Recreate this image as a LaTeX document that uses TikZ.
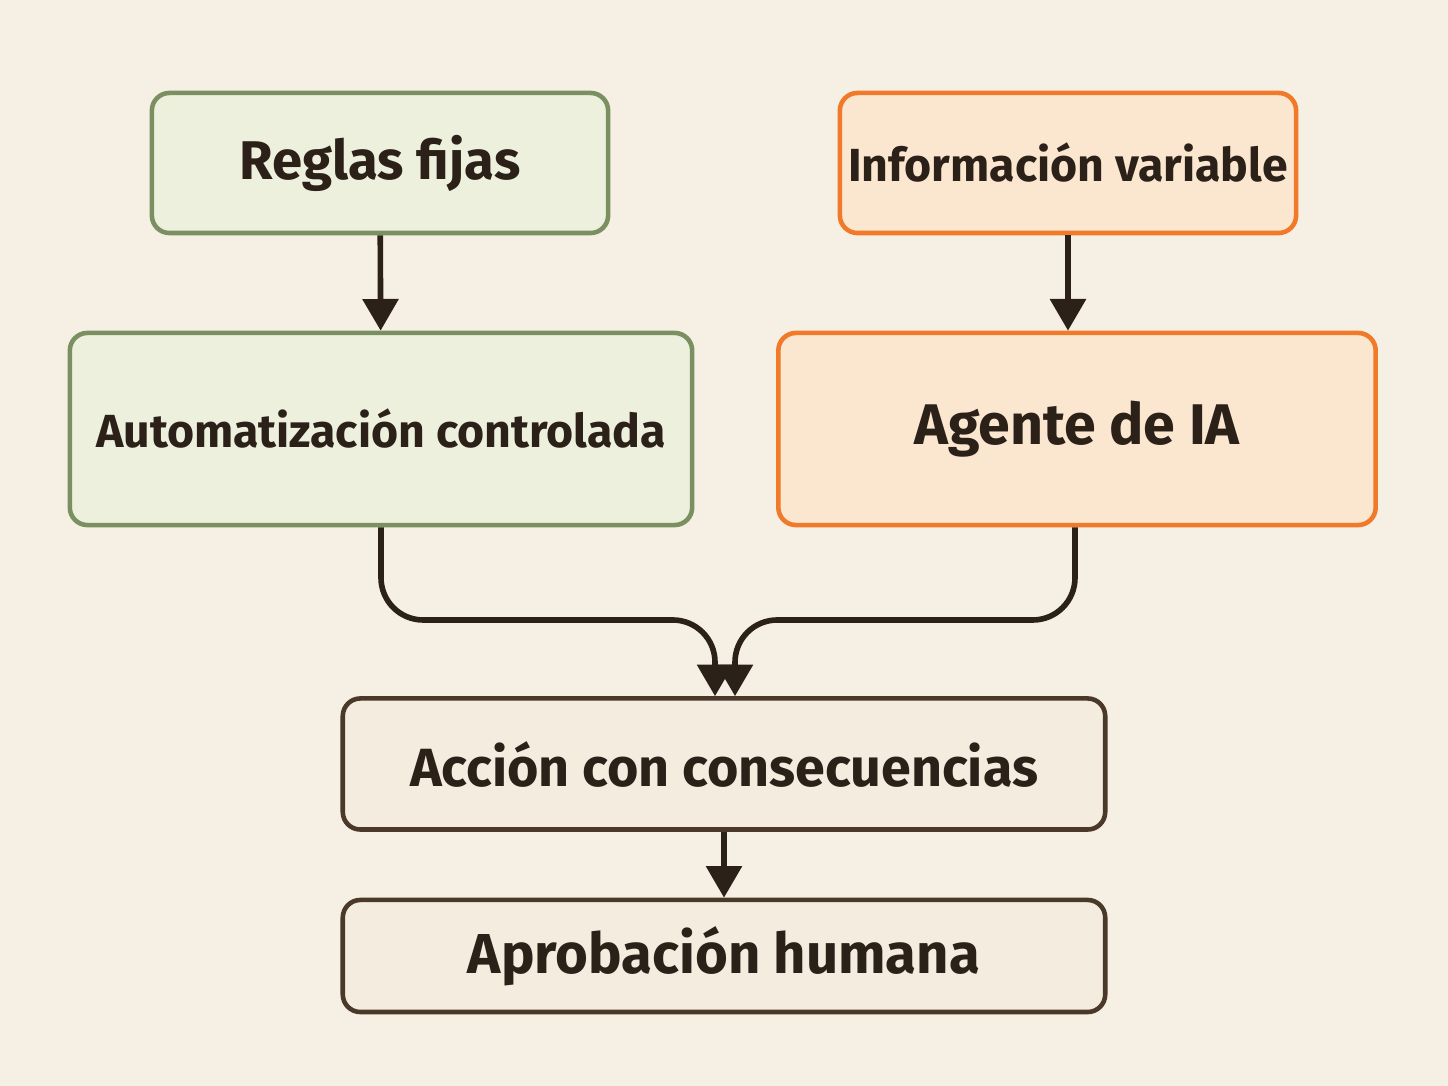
\documentclass[tikz,border=0pt]{standalone}
\usepackage{fontspec}
\setmainfont{Fira Sans}
\usetikzlibrary{arrows.meta,calc}
\definecolor{bgcol}{HTML}{F6F0E4}
\definecolor{greenline}{HTML}{7A9060}
\definecolor{greenfill}{HTML}{EEF0DE}
\definecolor{orangeline}{HTML}{F07A2A}
\definecolor{orangefill}{HTML}{FBE6D0}
\definecolor{brownline}{HTML}{4A3828}
\definecolor{brownfill}{HTML}{F5ECE0}
\definecolor{inkcol}{HTML}{2B2118}
\begin{document}
\begin{tikzpicture}[x=0.01cm,y=-0.01cm,
  box/.style={draw,line width=1.3pt,rounded corners=5pt,inner sep=0pt,text=inkcol,font=\bfseries\fontsize{15}{18}\selectfont},
  rulebox/.style={box,draw=greenline,fill=greenfill},
  aibox/.style={box,draw=orangeline,fill=orangefill},
  actbox/.style={box,draw=brownline,fill=brownfill},
  flow/.style={draw=inkcol,line width=1.6pt,rounded corners=12pt,-{Triangle[width=10pt,length=9pt]}}]
\fill[bgcol] (0,0) rectangle (1448,1086);
\useasboundingbox (0,0) rectangle (1448,1086);
% top row
\node[rulebox,minimum width=4.56cm,minimum height=1.40cm] (rules) at (380,163) {\fontsize{15.5}{18}\selectfont Reglas fijas};
\node[aibox,minimum width=4.56cm,minimum height=1.40cm] (info) at (1068,163) {\fontsize{13.2}{16}\selectfont Información variable};
% middle row
\node[rulebox,minimum width=6.22cm,minimum height=1.92cm] (auto) at (381,429) {\fontsize{13.2}{16}\selectfont Automatización controlada};
\node[aibox,minimum width=5.97cm,minimum height=1.92cm] (agent) at (1077,429) {\fontsize{16.3}{20}\selectfont Agente de IA};
% bottom
\node[actbox,minimum width=7.62cm,minimum height=1.31cm] (action) at (724,764) {\fontsize{15.3}{18}\selectfont Acción con consecuencias};
\node[actbox,minimum width=7.62cm,minimum height=1.12cm] (approve) at (724,956) {\fontsize{16}{19}\selectfont Aprobación humana};
% connectors
\draw[flow] (rules) -- (auto);
\draw[flow] (info.south) -- (info.south |- agent.north);
\draw[flow] (auto.south) -- (381,620) -- (715,620) -- ($(action.north)+(-9,0)$);
\draw[flow] ($(agent.south)+(-2,0)$) -- (1075,620) -- (735,620) -- ($(action.north)+(11,0)$);
\draw[flow] (action) -- (approve);
\end{tikzpicture}
\end{document}
